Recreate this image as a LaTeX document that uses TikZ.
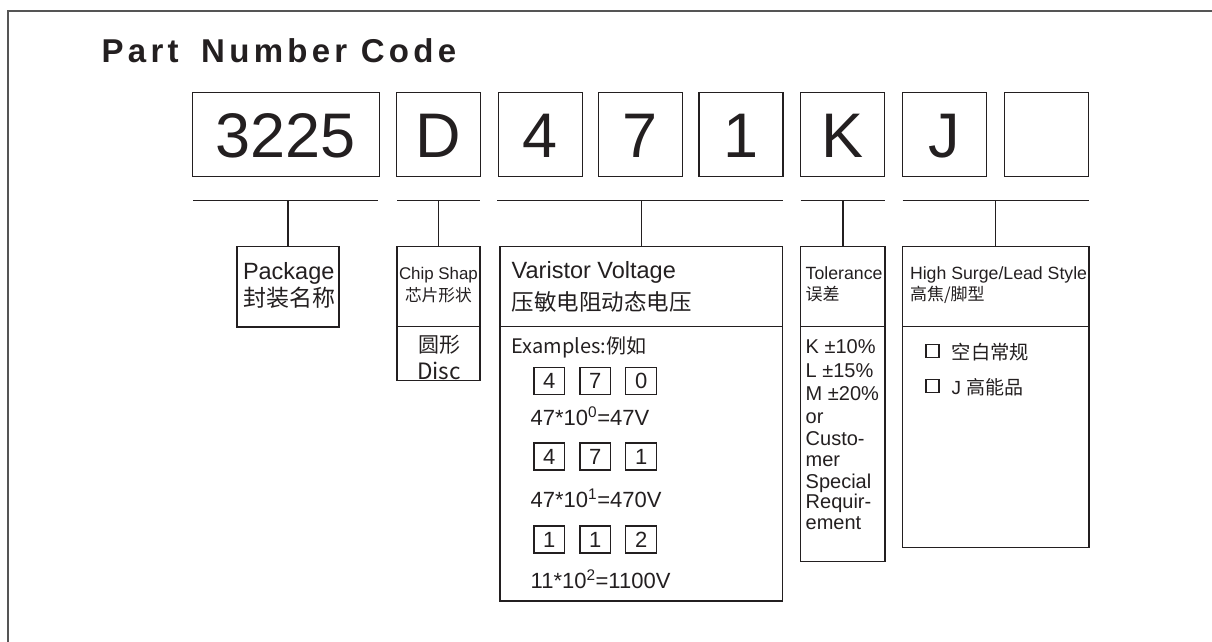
\documentclass[tikz,border=0pt]{standalone}
\usepackage{fontspec}
\setmainfont{Liberation Sans}
\newfontfamily\cjk{Noto Sans CJK SC}
\newfontfamily\titlefont[LetterSpace=13]{Liberation Sans}
\newcommand\fs[1]{\fontsize{#1}{#1}\selectfont}
\definecolor{ink}{RGB}{35,31,32}
\definecolor{framec}{RGB}{85,85,85}
\begin{document}
\begin{tikzpicture}[x=1pt,y=-1pt,line width=1.3pt,draw=ink,text=ink,
  every node/.style={inner sep=0pt,outer sep=0pt},
  codebox/.style={draw,minimum height=84,minimum width=84,text height=45,text depth=0,font=\fs{63}},
  exbox/.style={draw,line width=1.2pt,minimum width=30.7,minimum height=27,text height=15.7,text depth=0,font=\fs{22}},
  panel/.style={draw,anchor=north west},
  chk/.style={draw,line width=1.2pt,minimum size=13,anchor=north west},
  lbl/.style={anchor=base west},
  clbl/.style={anchor=base west,font=\cjk\fs{#1}}]
\useasboundingbox (0,0) rectangle (1212,641);
% frame
\draw[line width=2pt,draw=framec] (8,645) -- (8,11) -- (1215,11);
% title
\node[lbl,font=\titlefont\bfseries\fs{33}] (title) at (101.7,62.3) {Part\hspace{9pt} Number Code};
% code boxes
\node[codebox,minimum width=187] (c1) at (285.8,134.7) {3225};
\node[codebox] (c2) at (438.4,134.7) {D};
\node[codebox] (c3) at (540.2,134.7) {4};
\node[codebox] (c4) at (640.5,134.7) {7};
\node[codebox] (c5) at (741,134.7) {1};
\node[codebox] (c6) at (842.8,134.7) {K};
\node[codebox] (c7) at (944.7,134.7) {J};
\node[codebox] (c8) at (1046.5,134.7) {};
% panels
\node[panel,minimum width=102,minimum height=80.3] (pkg) at (237,246.7) {};
\node[panel,minimum width=83,minimum height=80] (chipH) at (397,246.7) {};
\node[panel,minimum width=83,minimum height=54] (chipB) at (397,326.7) {};
\node[panel,minimum width=282.7,minimum height=80] (varH) at (500,246.7) {};
\node[panel,minimum width=282.7,minimum height=274.3] (varB) at (500,326.7) {};
\node[panel,minimum width=84.3,minimum height=80] (tolH) at (800.7,246.7) {};
\node[panel,minimum width=84.3,minimum height=235] (tolB) at (800.7,326.7) {};
\node[panel,minimum width=186.5,minimum height=80] (hsH) at (902.5,246.7) {};
\node[panel,minimum width=186.5,minimum height=221] (hsB) at (902.5,326.7) {};
% brackets
\coordinate (b1l) at (193,200.7); \coordinate (b1r) at (378,200.7);
\coordinate (b2l) at (397,200.7); \coordinate (b2r) at (480,200.7);
\coordinate (b3l) at (497,200.7); \coordinate (b3r) at (782.7,200.7);
\coordinate (b4l) at (800.7,200.7); \coordinate (b4r) at (885,200.7);
\coordinate (b5l) at (902.5,200.7); \coordinate (b5r) at (1089,200.7);
\draw (b1l) -- (b1r); \draw (pkg.north) -- (pkg.north |- b1l);
\draw (b2l) -- (b2r); \draw (chipH.north) -- (chipH.north |- b2l);
\draw (b3l) -- (b3r); \draw (varH.north) -- (varH.north |- b3l);
\draw (b4l) -- (b4r); \draw (tolH.north) -- (tolH.north |- b4l);
\draw (b5l) -- (b5r); \draw (hsH.north) -- (hsH.north |- b5l);
% package text
\node[lbl,font=\fs{23.5}] (pk1) at (243,279) {Package};
\node[clbl=23] (pk2) at (243,306) {封装名称};
% chip text
\node[lbl,font=\fs{16.9}] (ch1) at (399,279.3) {Chip Shap};
\node[clbl=16.7] (ch2) at (405,301) {芯片形状};
\node[anchor=base,font=\cjk\fs{21}] (ch3) at (439,352) {圆形};
\node[anchor=base,font=\cjk\fs{22.5}] (ch4) at (439,379.3) {Disc};
% varistor text
\node[lbl,font=\fs{23.5}] (v1) at (511.7,278) {Varistor Voltage};
\node[clbl=22.5] (v2) at (511.7,310) {压敏电阻动态电压};
\node[clbl=20] (v3) at (511.7,353) {Examples:例如};
\node[exbox] (e11) at (549.3,380.6) {4};
\node[exbox] (e12) at (595.3,380.6) {7};
\node[exbox] (e13) at (641.2,380.6) {0};
\node[lbl,font=\fs{22}] (f1) at (530.7,425) {47*10\textsuperscript{0}=47V};
\node[exbox] (e21) at (549.3,456.5) {4};
\node[exbox] (e22) at (595.3,456.5) {7};
\node[exbox] (e23) at (641.2,456.5) {1};
\node[lbl,font=\fs{22}] (f2) at (530.7,507.3) {47*10\textsuperscript{1}=470V};
\node[exbox] (e31) at (549.3,539.5) {1};
\node[exbox] (e32) at (595.3,539.5) {1};
\node[exbox] (e33) at (641.2,539.5) {2};
\node[lbl,font=\fs{22}] (f3) at (530.7,588.3) {11*10\textsuperscript{2}=1100V};
% tolerance text
\node[lbl,font=\fs{17.7}] (t1) at (805.7,279.3) {Tolerance};
\node[clbl=17] (t2) at (805.7,300) {误差};
\node[lbl,font=\fs{20}] (t3) at (805.7,353) {K ±10\%};
\node[lbl,font=\fs{20}] (t4) at (805.7,377) {L ±15\%};
\node[lbl,font=\fs{20}] (t5) at (805.7,400) {M ±20\%};
\node[lbl,font=\fs{20}] (t6) at (805.7,423) {or};
\node[lbl,font=\fs{20}] (t7) at (805.7,445) {Custo-};
\node[lbl,font=\fs{20}] (t8) at (805.7,466.5) {mer};
\node[lbl,font=\fs{20}] (t9) at (805.7,488) {Special};
\node[lbl,font=\fs{20}] (t10) at (805.7,508.5) {Requir-};
\node[lbl,font=\fs{20}] (t11) at (805.7,529.5) {ement};
% high surge text
\node[lbl,font=\fs{17.7}] (h1) at (910,279.3) {High Surge/Lead Style};
\node[clbl=17] (h2) at (910,300) {高焦/脚型};
\node[chk] (k1) at (926,344.3) {};
\node[clbl=19.3] (h3) at (951.7,359) {空白常规};
\node[chk] (k2) at (926,379.3) {};
\node[lbl,font=\fs{19}] (h4) at (951.7,394) {J \cjk 高能品};
\end{tikzpicture}
\end{document}
